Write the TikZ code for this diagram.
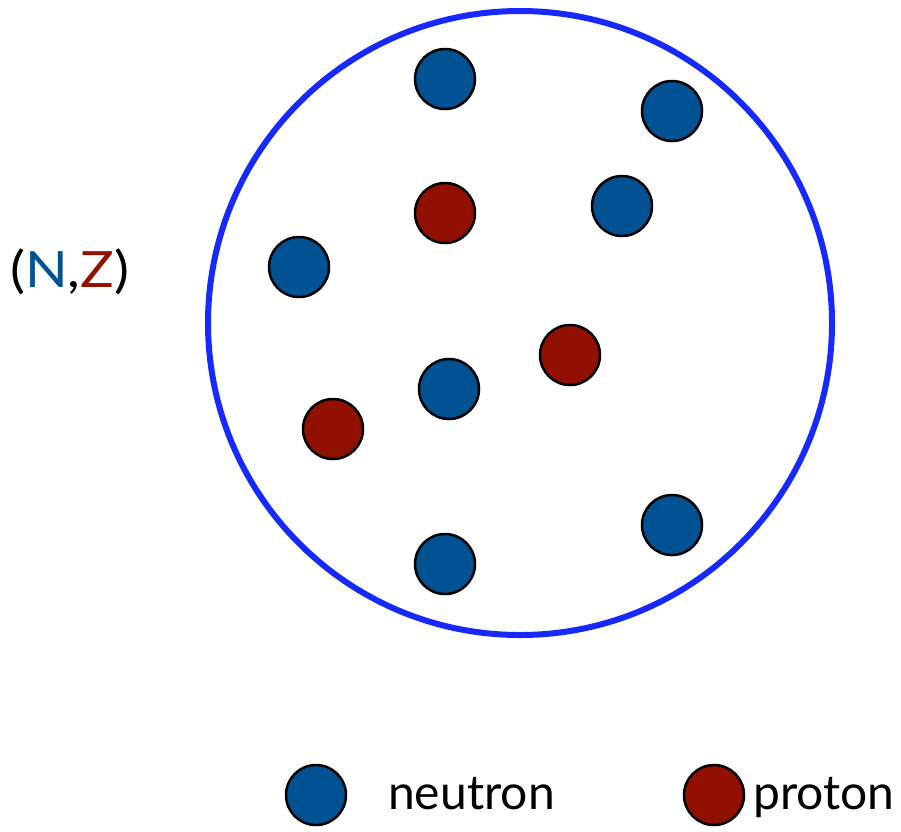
\documentclass[tikz,border=0pt]{standalone}
\usepackage{fontspec}
\setmainfont{Lato}
\definecolor{nblue}{RGB}{0,82,147}
\definecolor{pred}{RGB}{145,16,0}
\definecolor{ringblue}{RGB}{22,42,255}
\begin{document}
\begin{tikzpicture}[x=1pt,y=-1pt,
  neutron/.style={circle,draw=black,line width=2.5pt,fill=nblue,minimum size=60pt,inner sep=0pt},
  proton/.style={circle,draw=black,line width=2.5pt,fill=pred,minimum size=60pt,inner sep=0pt},
  lbl/.style={font=\fontsize{48}{52}\selectfont,inner sep=0pt,anchor=base west}]
\useasboundingbox (0,0) rectangle (901,831);
\node[circle,draw=ringblue,line width=6pt,minimum size=624pt,inner sep=0pt] (nucleus) at (520,323) {};
\node[neutron] (n1) at (445,79) {};
\node[neutron] (n2) at (672,111) {};
\node[proton]  (p1) at (445,213) {};
\node[neutron] (n3) at (622,206) {};
\node[neutron] (n4) at (299,267) {};
\node[proton]  (p2) at (570,355) {};
\node[neutron] (n5) at (449,389) {};
\node[proton]  (p3) at (333,429) {};
\node[neutron] (n6) at (672,525) {};
\node[neutron] (n7) at (445,564) {};
\node[lbl,xscale=1.12,font=\fontsize{50}{54}\selectfont] (nz) at (10,287) {(\textcolor{nblue}{N},\textcolor{pred}{Z})};
\node[neutron] (ln) at (316,795) {};
\node[lbl] (lnt) at (388,809) {neutron};
\node[proton] (lp) at (714,795) {};
\node[lbl] (lpt) at (753,809) {proton};
\end{tikzpicture}
\end{document}
